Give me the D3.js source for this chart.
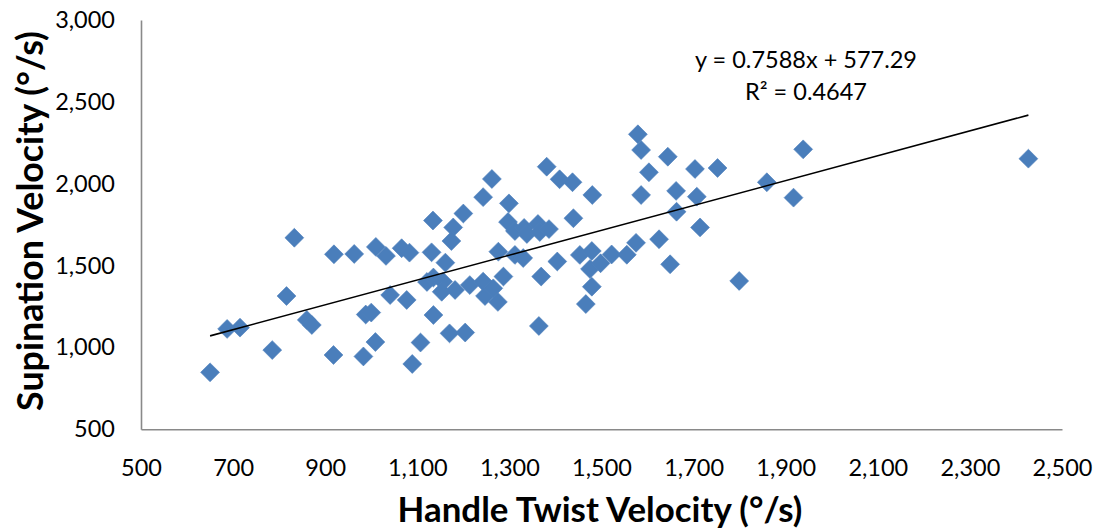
<!DOCTYPE html>
<html><head><meta charset="utf-8">
<script src="https://cdn.jsdelivr.net/npm/d3@7"></script>
<style>
html,body{margin:0;padding:0;background:#fff;}
svg{display:block;font-family:Lato,"Open Sans",sans-serif;}
</style>
</head><body>
<svg id="chart" width="1097" height="532"></svg>
<script>
// ---- data ----
const handleTwist = [650,687,715,785,833,816,860,871,919,918,
  963,983,988,1000,1009,1010,1032,1066,1083,1041,
  1077,1089,1107,1134,1131,1161,1135,1121,1135,1156,
  1153,1182,1170,1204,1200,1178,1174,1214,1243,1247,
  1265,1287,1275,1276,1312,1330,1262,1243,1299,
  1297,1312,1332,1338,1362,1366,1386,1369,1364,1381,1409,
  1437,1480,1439,1404,1453,1479,1475,1498,1522,1555,
  1575,1479,1466,1579,1586,1644,1603,1586,1662,1703,
  1707,1663,1752,1714,1625,1649,1799,1859,1917,1938,2427];
const supination = [848,1113,1121,984,1670,1314,1168,1137,1569,954,
  1571,945,1201,1213,1033,1614,1559,1606,1579,1320,
  1290,899,1030,1775,1581,1518,1198,1400,1427,1402,
  1340,1351,1086,1091,1818,1733,1650,1381,1402,1314,
  1361,1433,1278,1585,1565,1546,2029,1918,1880,
  1766,1711,1730,1693,1754,1705,1723,1433,1131,2104,2027,
  2009,1931,1789,1525,1565,1589,1479,1514,1568,1566,
  1639,1371,1265,2302,2206,2165,2070,1931,1956,2090,
  1921,1829,2096,1733,1661,1508,1406,2009,1915,2210,2153];
const xTicks = [500,700,900,1100,1300,1500,1700,1900,2100,2300,2500];
const yTicks = [500,1000,1500,2000,2500,3000];
const trendSlope = 0.7588;
const trendIntercept = 577.29;
const equationLabel = "y = 0.7588x + 577.29";
const r2Label = "R² = 0.4647";
const xTitle = "Handle Twist Velocity (°/s)";
const yTitle = "Supination Velocity (°/s)";

// ---- layout ----
const svg = d3.select("#chart");
const plot = {left:141, right:1062, top:20, bottom:429.3};
const x = d3.scaleLinear().domain([500,2500]).range([plot.left, plot.right]);
const y = d3.scaleLinear().domain([500,3000]).range([plot.bottom, plot.top]);
const axisColor = "#898989";
const tickFont = "23.5px";

// x axis
const gx = svg.append("g").attr("transform", `translate(0,${plot.bottom})`)
  .call(d3.axisBottom(x).tickValues(xTicks).tickSize(0).tickPadding(30).tickFormat(d3.format(",")));
gx.select(".domain").attr("stroke", axisColor).attr("stroke-width", 1.6);
gx.selectAll("text").attr("font-size", tickFont).attr("fill", "#000").attr("font-family","Lato,'Open Sans',sans-serif");

// y axis
const gy = svg.append("g").attr("transform", `translate(${plot.left},0)`)
  .call(d3.axisLeft(y).tickValues(yTicks).tickSize(0).tickPadding(26).tickFormat(d3.format(",")));
gy.select(".domain").attr("stroke", axisColor).attr("stroke-width", 1.6);
gy.selectAll("text").attr("font-size", tickFont).attr("fill", "#000").attr("font-family","Lato,'Open Sans',sans-serif");

// points
const pts = handleTwist.map((v,i)=>({x:v, y:supination[i]}));
const diamond = d3.symbol().type(d3.symbolSquare).size(178);
svg.append("g").selectAll("path").data(pts).join("path")
  .attr("d", diamond)
  .attr("transform", d=>`translate(${x(d.x)},${y(d.y)}) rotate(45)`)
  .attr("fill", "#4a7ebb")
  .attr("stroke", "#4f81bd").attr("stroke-width", 0.6);

// trend line
const xMin = d3.min(handleTwist), xMax = d3.max(handleTwist);
svg.append("line")
  .attr("x1", x(xMin)).attr("y1", y(trendSlope*xMin+trendIntercept))
  .attr("x2", x(xMax)).attr("y2", y(trendSlope*xMax+trendIntercept))
  .attr("stroke", "#000").attr("stroke-width", 1.6);

// equation labels
svg.append("text").attr("x", 806).attr("y", 68).attr("text-anchor","middle")
  .attr("font-size", tickFont).text(equationLabel);
svg.append("text").attr("x", 806).attr("y", 100).attr("text-anchor","middle")
  .attr("font-size", tickFont).text(r2Label);

// axis titles, fitted to the reference widths
function fit(sel, target){
  const len = sel.node().getComputedTextLength();
  const fs = parseFloat(sel.attr("font-size"));
  sel.attr("font-size", (fs*target/len).toFixed(2)+"px");
}
const tx = svg.append("text").attr("x", 600).attr("y", 522).attr("text-anchor","middle")
  .attr("font-weight","bold").attr("font-size","30px").text(xTitle);
fit(tx, 405);
const ty = svg.append("text").attr("transform","translate(43,221) rotate(-90)").attr("text-anchor","middle")
  .attr("font-weight","bold").attr("font-size","30px").text(yTitle);
fit(ty, 380);
</script>
</body></html>
